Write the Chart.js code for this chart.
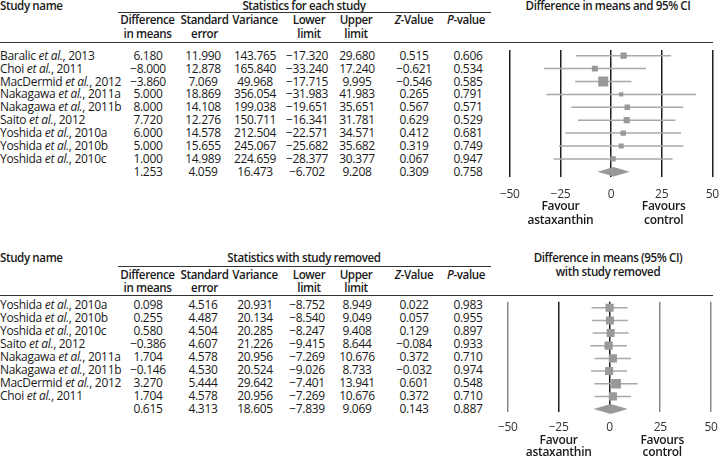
<!DOCTYPE html>
<html>
<head>
<meta charset="utf-8">
<script src="https://cdn.jsdelivr.net/npm/chart.js@4.4.1/dist/chart.umd.min.js"></script>
<style>
  html, body { margin: 0; padding: 0; background: #fff; overflow: hidden; }
  #page { position: relative; width: 719px; height: 459px; overflow: hidden;
          font-family: "Open Sans", sans-serif; font-size: 12px; letter-spacing: -0.3px; color: #1a1a1a; }
  .t { position: absolute; white-space: nowrap; line-height: 1; }
  .h { font-weight: 600; font-size: 11.6px; letter-spacing: -0.4px; }
  .rule { position: absolute; height: 0; border-top: 1.3px solid #333; }
  canvas { position: absolute; }
</style>
</head>
<body>
<div id="page"></div>
<script>
// Statistics for each study (last entry = pooled)
const authors1 = ["Baralic", "Choi", "MacDermid", "Nakagawa", "Nakagawa", "Saito", "Yoshida", "Yoshida", "Yoshida"];
const years1 = ["2013", "2011", "2012", "2011a", "2011b", "2012", "2010a", "2010b", "2010c"];
const diff1 = [6.180, -8.000, -3.860, 5.000, 8.000, 7.720, 6.000, 5.000, 1.000, 1.253];
const se1 = [11.990, 12.878, 7.069, 18.869, 14.108, 12.276, 14.578, 15.655, 14.989, 4.059];
const var1 = [143.765, 165.840, 49.968, 356.054, 199.038, 150.711, 212.504, 245.067, 224.659, 16.473];
const lower1 = [-17.320, -33.240, -17.715, -31.983, -19.651, -16.341, -22.571, -25.682, -28.377, -6.702];
const upper1 = [29.680, 17.240, 9.995, 41.983, 35.651, 31.781, 34.571, 35.682, 30.377, 9.208];
const z1 = [0.515, -0.621, -0.546, 0.265, 0.567, 0.629, 0.412, 0.319, 0.067, 0.309];
const p1 = [0.606, 0.534, 0.585, 0.791, 0.571, 0.529, 0.681, 0.749, 0.947, 0.758];

// Statistics with study removed (last entry = pooled)
const authors2 = ["Yoshida", "Yoshida", "Yoshida", "Saito", "Nakagawa", "Nakagawa", "MacDermid", "Choi"];
const years2 = ["2010a", "2010b", "2010c", "2012", "2011a", "2011b", "2012", "2011"];
const diff2 = [0.098, 0.255, 0.580, -0.386, 1.704, -0.146, 3.270, 1.704, 0.615];
const se2 = [4.516, 4.487, 4.504, 4.607, 4.578, 4.530, 5.444, 4.578, 4.313];
const var2 = [20.931, 20.134, 20.285, 21.226, 20.956, 20.524, 29.642, 20.956, 18.605];
const lower2 = [-8.752, -8.540, -8.247, -9.415, -7.269, -9.026, -7.401, -7.269, -7.839];
const upper2 = [8.949, 9.049, 9.408, 8.644, 10.676, 8.733, 13.941, 10.676, 9.069];
const z2 = [0.022, 0.057, 0.129, -0.084, 0.372, -0.032, 0.601, 0.372, 0.143];
const p2 = [0.983, 0.955, 0.897, 0.933, 0.710, 0.974, 0.548, 0.710, 0.887];

const xTicks = [-50, -25, 0, 25, 50];

const FONT = "Open Sans";
const FSIZE = 12;
Chart.defaults.font.family = FONT;
Chart.defaults.font.size = FSIZE;
Chart.defaults.color = "#1a1a1a";

const page = document.getElementById("page");
const minus = (s) => String(s).replace("-", "\u2212");
const fmt = (v) => minus(v.toFixed(3));

function put(html, x, y, align, cls) {
  const d = document.createElement("div");
  d.className = "t" + (cls ? " " + cls : "");
  d.innerHTML = html;
  d.style.left = x + "px";
  d.style.top = y + "px";
  const tx = align === "c" ? "-50%" : align === "r" ? "-100%" : "0";
  d.style.transform = "translate(" + tx + ",-50%)";
  page.appendChild(d);
}

function rule(x1, x2, y) {
  const d = document.createElement("div");
  d.className = "rule";
  d.style.left = x1 + "px";
  d.style.width = x2 - x1 + "px";
  d.style.top = y + "px";
  page.appendChild(d);
}

const colX = [148, 203, 255, 307, 357, 414, 468];
const headX = [147.5, 204.5, 255, 309, 356, 414, 466];

function table(t) {
  put("Study name", 0, t.titleY, "l", "h");
  put(t.title, 304, t.titleY, "c", "h");
  rule(118, 491, t.subRuleY);
  t.plotTitle.forEach((s, i) => put(s, 608, t.titleY + i * 14, "c", "h"));
  const heads = [["Difference", "in means"], ["Standard", "error"], ["Variance", ""],
                 ["Lower", "limit"], ["Upper", "limit"], ["<i>Z</i>-Value", ""], ["<i>P</i>-value", ""]];
  heads.forEach((h, i) => {
    put(h[0], headX[i], t.headY, "c", "h");
    if (h[1]) put(h[1], headX[i], t.headY + 13.5, "c", "h");
  });
  rule(0, 713, t.ruleY);
  const cols = t.cols;
  for (let r = 0; r < cols[0].length; r++) {
    const y = t.rowY0 + r * t.rowStep;
    if (r < t.authors.length) put(t.authors[r] + " <i>et al.</i>, " + t.years[r], 0, y, "l");
    cols.forEach((c, i) => put(fmt(c[r]), colX[i], y, "c"));
  }
}

function forest(f) {
  const cv = document.createElement("canvas");
  cv.width = 240;
  cv.height = f.height;
  cv.style.left = "490px";
  cv.style.top = f.top + "px";
  page.appendChild(cv);

  const n = f.diff.length - 1;
  const pts = [];
  const radii = [];
  for (let i = 0; i < n; i++) {
    pts.push({ x: f.diff[i], y: i });
    radii.push(f.side(i) / Math.SQRT2);
  }

  const area = f.areaBottom - f.areaTop;
  const step = f.rowStep;
  const yMin = -(f.rowY0 - f.areaTop) / step;
  const yMax = yMin + area / step;

  const whiskers = {
    id: "whiskers",
    beforeDatasetsDraw(chart) {
      const { ctx, scales } = chart;
      const xs = scales.x, ys = scales.y;
      ctx.save();
      ctx.strokeStyle = "#a8a8a8";
      ctx.lineWidth = 1.5;
      for (let i = 0; i < n; i++) {
        const y = ys.getPixelForValue(i);
        ctx.beginPath();
        ctx.moveTo(xs.getPixelForValue(f.lower[i]), y);
        ctx.lineTo(xs.getPixelForValue(f.upper[i]), y);
        ctx.stroke();
      }
      // pooled diamond
      const yd = ys.getPixelForValue(n);
      const xc = xs.getPixelForValue(f.diff[n]);
      ctx.fillStyle = "#999999";
      ctx.beginPath();
      ctx.moveTo(xs.getPixelForValue(f.lower[n]), yd);
      ctx.lineTo(xc, yd - f.diamondH);
      ctx.lineTo(xs.getPixelForValue(f.upper[n]), yd);
      ctx.lineTo(xc, yd + f.diamondH);
      ctx.closePath();
      ctx.fill();
      ctx.restore();
    },
    afterDraw(chart) {
      const { ctx, scales, chartArea } = chart;
      ctx.save();
      ctx.font = "600 " + FSIZE + "px '" + FONT + "'";
      ctx.letterSpacing = "-0.3px";
      ctx.fillStyle = "#1a1a1a";
      ctx.textAlign = "center";
      ctx.textBaseline = "middle";
      const b = chartArea.bottom;
      const xl = scales.x.getPixelForValue(-25), xr = scales.x.getPixelForValue(25) + 2;
      ctx.fillText("Favour", xl, b + f.fav1);
      ctx.fillText("astaxanthin", xl, b + f.fav2);
      ctx.fillText("Favours", xr, b + f.fav1);
      ctx.fillText("control", xr, b + f.fav2);
      ctx.restore();
    }
  };

  new Chart(cv, {
    type: "scatter",
    data: {
      datasets: [{
        data: pts,
        pointStyle: "rect",
        pointRadius: radii,
        pointHoverRadius: radii,
        backgroundColor: "#999999",
        borderWidth: 0
      }]
    },
    options: {
      responsive: false,
      animation: false,
      events: [],
      layout: { padding: { left: f.left - 490, right: 240 - (f.right - 490), top: f.areaTop - f.top, bottom: 0 } },
      plugins: { legend: { display: false }, tooltip: { enabled: false } },
      scales: {
        x: {
          type: "linear",
          min: -50,
          max: 50,
          afterBuildTicks: (s) => { s.ticks = xTicks.map((v) => ({ value: v })); },
          afterFit: (s) => { s.height = f.top + f.height - f.areaBottom; },
          ticks: { padding: f.tickPad, color: "#333", callback: (v) => minus(v) },
          grid: { drawTicks: false, lineWidth: 1.5, color: (c) => f.gridColor(c.tick ? c.tick.value : 0) },
          border: { display: false }
        },
        y: { display: false, reverse: true, min: yMin, max: yMax }
      }
    },
    plugins: [whiskers]
  });
}

// ---- top block ----
table({
  titleY: 6, subRuleY: 12, headY: 20, ruleY: 41.5, rowY0: 55.7, rowStep: 12.9,
  title: "Statistics for each study",
  plotTitle: ["Difference in means and 95% CI"],
  authors: authors1, years: years1,
  cols: [diff1, se1, var1, lower1, upper1, z1, p1]
});
const minVar1 = Math.min(...var1.slice(0, -1));
forest({
  top: 42, height: 188, areaTop: 50, areaBottom: 177, rowY0: 55.7, rowStep: 12.9,
  left: 503.3, right: 712.3, tickPad: 10, fav1: 30, fav2: 44, diamondH: 4.7,
  diff: diff1, lower: lower1, upper: upper1,
  side: (i) => 1 + 9 * Math.sqrt(minVar1 / var1[i]),
  gridColor: () => "#1e1e1e"
});

// ---- bottom block ----
table({
  titleY: 258, subRuleY: 265.5, headY: 274.5, ruleY: 294.5, rowY0: 305, rowStep: 13,
  title: "Statistics with study removed",
  plotTitle: ["Difference in means (95% CI)", "with study removed"],
  authors: authors2, years: years2,
  cols: [diff2, se2, var2, lower2, upper2, z2, p2]
});
const minVar2 = Math.min(...var2.slice(0, -1));
forest({
  top: 295, height: 164, areaTop: 299, areaBottom: 412, rowY0: 305, rowStep: 13,
  left: 501.7, right: 711, tickPad: 8, fav1: 29, fav2: 41, diamondH: 5,
  diff: diff2, lower: lower2, upper: upper2,
  side: (i) => 8 * Math.sqrt(var2[i] / minVar2),
  gridColor: (v) => (v === -25 || v === 0 ? "#1e1e1e" : "#8a8a8a")
});
</script>
</body>
</html>
